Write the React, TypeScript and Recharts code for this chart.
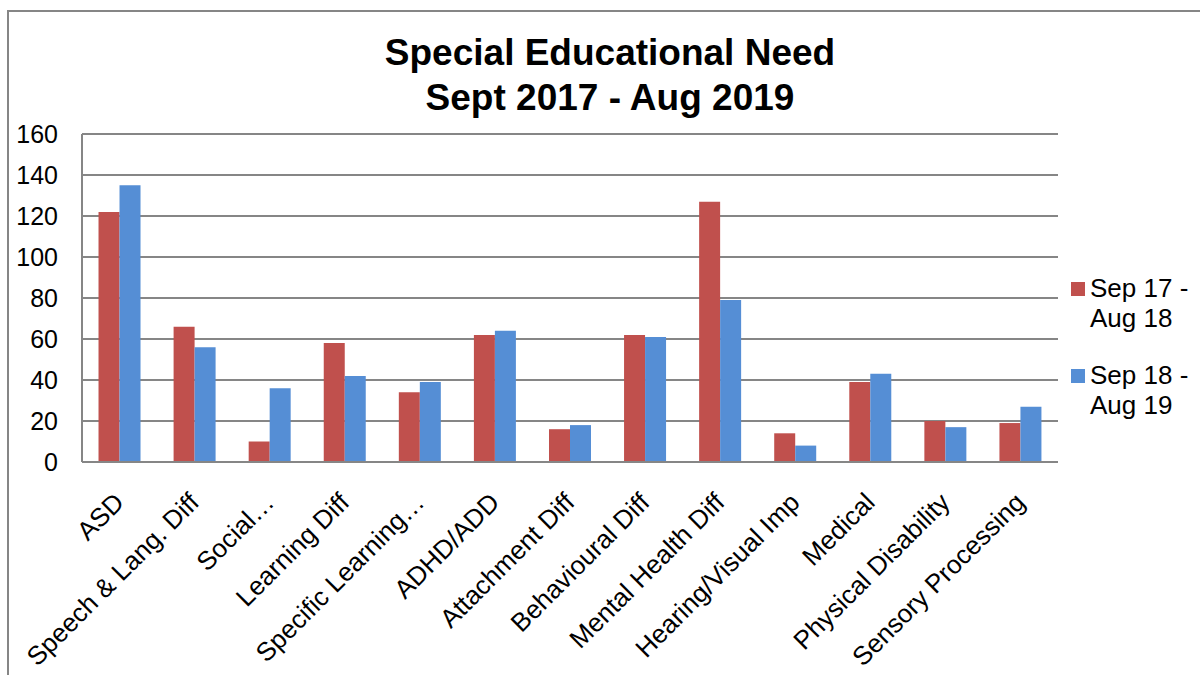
import React from "react";
import { BarChart, Bar, XAxis, YAxis, CartesianGrid } from "recharts";

const categories = [
  "ASD",
  "Speech & Lang. Diff",
  "Social…",
  "Learning Diff",
  "Specific Learning…",
  "ADHD/ADD",
  "Attachment Diff",
  "Behavioural Diff",
  "Mental Health Diff",
  "Hearing/Visual Imp",
  "Medical",
  "Physical Disability",
  "Sensory Processing",
];
const sep17 = [122, 66, 10, 58, 34, 62, 16, 62, 127, 14, 39, 20, 19];
const sep18 = [135, 56, 36, 42, 39, 64, 18, 61, 79, 8, 43, 17, 27];
const yTicks = [0, 20, 40, 60, 80, 100, 120, 140, 160];

const seriesNames = ["Sep 17 - Aug 18", "Sep 18 - Aug 19"];
const colors = ["#C0504D", "#558ED5"];
const font = "'Liberation Sans', Arial, sans-serif";
const axisGrey = "#868686";

const data = categories.map((name, i) => ({ name, a: sep17[i], b: sep18[i] }));

// rotated category label, text end sits just below its tick
function XTick(props: any) {
  const { x, y, payload } = props;
  return (
    <g transform={`translate(${x + 6},${y + 34})`}>
      <text
        transform="rotate(-45)"
        textAnchor="end"
        fontSize={26}
        fontFamily={font}
        fill="#000"
      >
        {payload.value}
      </text>
    </g>
  );
}

export default function App() {
  return (
    <div
      style={{
        position: "absolute",
        left: 0,
        top: 0,
        width: 1200,
        height: 675,
        overflow: "hidden",
        background: "#fff",
        fontFamily: font,
      }}
    >
      <div
        style={{
          position: "absolute",
          left: 7,
          top: 10,
          width: 1300,
          height: 800,
          border: `2px solid ${axisGrey}`,
        }}
      />
      <div
        style={{
          position: "absolute",
          left: 0,
          top: 30,
          width: 1220,
          textAlign: "center",
          fontSize: 37,
          fontWeight: "bold",
          lineHeight: "45px",
          color: "#000",
        }}
      >
        <div>Special Educational Need</div>
        <div>Sept 2017 - Aug 2019</div>
      </div>
      <div style={{ position: "absolute", left: 0, top: 0 }}>
        <BarChart
          width={1200}
          height={675}
          data={data}
          margin={{ top: 134, right: 142, bottom: 0, left: 0 }}
          barCategoryGap="22%"
          barGap={0}
        >
          <CartesianGrid
            vertical={false}
            stroke={axisGrey}
            strokeWidth={2}
          />
          <XAxis
            dataKey="name"
            interval={0}
            tickLine={false}
            axisLine={{ stroke: axisGrey, strokeWidth: 2 }}
            tick={<XTick />}
            height={213}
          />
          <YAxis
            width={82}
            domain={[0, 160]}
            ticks={yTicks}
            interval={0}
            tickLine={false}
            tickSize={0}
            tickMargin={24}
            axisLine={{ stroke: axisGrey, strokeWidth: 2 }}
            tick={{ fontSize: 25, fill: "#000", fontFamily: font }}
          />
          <Bar dataKey="a" name={seriesNames[0]} fill={colors[0]} isAnimationActive={false} />
          <Bar dataKey="b" name={seriesNames[1]} fill={colors[1]} isAnimationActive={false} />
        </BarChart>
      </div>
      {seriesNames.map((s, i) => {
        const [first, second] = [s.slice(0, 8), s.slice(9)];
        return (
          <div
            key={s}
            style={{
              position: "absolute",
              left: 1071,
              top: 273 + i * 87,
              fontSize: 26,
              lineHeight: "30px",
              color: "#000",
            }}
          >
            <span
              style={{
                position: "absolute",
                left: 0,
                top: 9,
                width: 14,
                height: 14,
                background: colors[i],
              }}
            />
            <div style={{ paddingLeft: 19, whiteSpace: "nowrap" }}>
              {first}
              <br />
              {second}
            </div>
          </div>
        );
      })}
    </div>
  );
}
